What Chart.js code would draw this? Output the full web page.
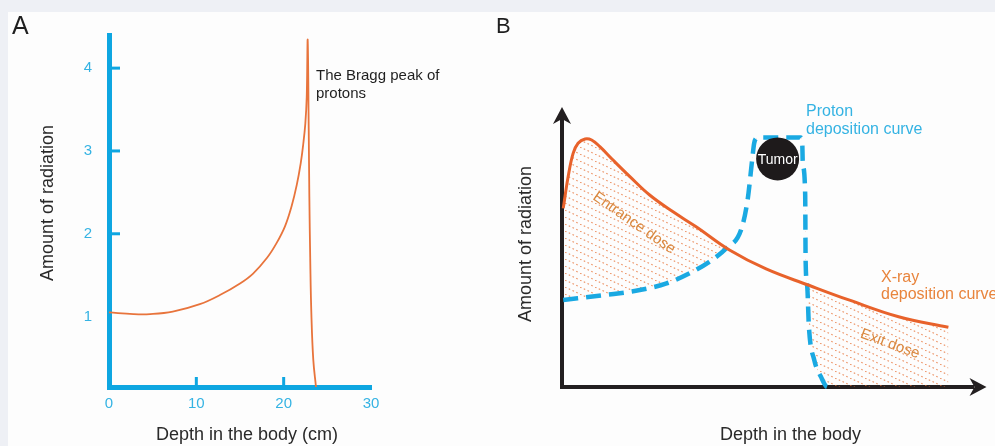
<!DOCTYPE html>
<html><head><meta charset="utf-8">
<script src="https://cdn.jsdelivr.net/npm/chart.js@4"></script>
<style>
html,body{margin:0;padding:0;background:#eef0f5;width:995px;height:446px;overflow:hidden}
#panel{position:absolute;left:8px;top:12px;width:987px;height:434px;background:#fdfdfd}
canvas{position:absolute;top:0}
#ca{left:0}
#cb{left:490px}
</style></head><body>
<div id="panel"></div>
<canvas id="ca" width="490" height="446"></canvas>
<canvas id="cb" width="505" height="446"></canvas>
<script>
// ---------- Panel A: Bragg peak ----------
const braggDepth = [0, 2.8, 4.7, 7.3, 10.4, 12.7, 15.0, 16.5, 18.1, 19.2, 20.15, 20.9, 21.5, 21.95, 22.25, 22.48, 22.64, 22.75, 22.87, 22.94, 23.05, 23.17, 23.39, 23.7];
const braggDose  = [1.05, 1.03, 1.03, 1.06, 1.15, 1.26, 1.40, 1.52, 1.71, 1.89, 2.09, 2.33, 2.59, 2.85, 3.09, 3.33, 3.65, 4.34, 3.25, 2.45, 1.64, 1.04, 0.48, 0.15];
const aXTicks = [0, 10, 20, 30];
const aYTicks = [1, 2, 3, 4];
const aXTickMarks = [10, 20];
const aYTickMarks = [2, 3, 4];

// ---------- Panel B: X-ray vs proton deposition ----------
const xrayDepth = [0.3, 1.5, 2.7, 3.9, 5.6, 7.2, 9.2, 12.4, 16.5, 21.3, 26.9, 32.6, 40.7, 49.6, 60.0, 69.7, 81.8, 93.9];
const xrayDose  = [66.9, 78.8, 87.5, 91.3, 92.9, 92.5, 90.0, 85.0, 78.8, 71.9, 65.7, 60.0, 51.3, 44.2, 38.1, 32.6, 26.3, 22.4];
const protonDepth = [0.3, 10.8, 18.9, 25.4, 31.0, 35.8, 39.9, 43.5, 45.1, 46.3, 46.7, 47.5, 48.7, 58.0, 58.4, 58.5, 59.1, 59.2, 59.6, 60.0, 61.3, 62.9, 64.5, 100];
const protonDose  = [32.6, 34.5, 36.3, 38.8, 42.6, 46.9, 51.9, 58.8, 70.0, 86.3, 91.3, 93.3, 93.4, 93.4, 90.6, 84.4, 71.9, 47.6, 37.6, 22.6, 10.1, 3.9, 0, 0];
const tumorDepth = [52.4];
const tumorDose  = [85.4];

const FONT = '"Liberation Sans", Arial, Helvetica, sans-serif';
const CYAN = '#0ea6e1';
const CYAN_TXT = '#35b3e3';
const ORANGE = '#e8622b';

function pts(xs, ys){ return xs.map((x,i)=>({x:x, y:ys[i]})); }

function txt(ctx, s, x, y, size, color, align, rot){
  ctx.save();
  ctx.font = size + 'px ' + FONT;
  ctx.fillStyle = color;
  ctx.textAlign = align || 'left';
  ctx.textBaseline = 'middle';
  ctx.translate(x, y);
  if (rot) ctx.rotate(rot);
  ctx.fillText(s, 0, 0);
  ctx.restore();
}

// ---------- Chart A ----------
const plugA = {
  id: 'plugA',
  afterDraw(chart){
    const ctx = chart.ctx, xs = chart.scales.x, ys = chart.scales.y, a = chart.chartArea;
    ctx.save();
    ctx.strokeStyle = CYAN; ctx.lineWidth = 3;
    aYTickMarks.forEach(v => { const y = ys.getPixelForValue(v); ctx.beginPath(); ctx.moveTo(a.left, y); ctx.lineTo(a.left + 11, y); ctx.stroke(); });
    aXTickMarks.forEach(v => { const x = xs.getPixelForValue(v); ctx.beginPath(); ctx.moveTo(x, a.bottom); ctx.lineTo(x, a.bottom - 10); ctx.stroke(); });
    ctx.restore();
    txt(ctx, 'A', 12, 27, 25, '#1f1f1f');
    txt(ctx, 'Amount of radiation', 48, 203, 18, '#2a2a2a', 'center', -Math.PI/2);
    txt(ctx, 'Depth in the body (cm)', 247, 435, 18, '#2a2a2a', 'center');
    txt(ctx, 'The Bragg peak of', 316, 76, 15, '#1f1f1f');
    txt(ctx, 'protons', 316, 94, 15, '#1f1f1f');
  }
};

new Chart(document.getElementById('ca'), {
  type: 'line',
  data: { datasets: [{
    data: pts(braggDepth, braggDose),
    borderColor: '#e8743c', borderWidth: 1.8, pointRadius: 0,
    tension: 0.4, fill: false
  }]},
  options: {
    responsive: false, animation: false, devicePixelRatio: 1,
    layout: { padding: { left: 0, right: 119, top: 35, bottom: 0 } },
    plugins: { legend: { display: false }, tooltip: { enabled: false } },
    scales: {
      x: { type: 'linear', min: 0, max: 30,
        grid: { display: false, drawTicks: false },
        border: { display: true, color: CYAN, width: 5 },
        ticks: { color: CYAN_TXT, font: { size: 15, family: FONT }, padding: 8, maxRotation: 0, autoSkip: false },
        afterBuildTicks: s => { s.ticks = aXTicks.map(v => ({ value: v })); },
        afterFit: s => { s.height = 59; } },
      y: { type: 'linear', min: 0.15, max: 4.4,
        grid: { display: false, drawTicks: false },
        border: { display: true, color: CYAN, width: 5 },
        ticks: { color: CYAN_TXT, font: { size: 15, family: FONT }, padding: 17, autoSkip: false },
        afterBuildTicks: s => { s.ticks = aYTicks.map(v => ({ value: v })); },
        afterFit: s => { s.width = 109; } }
    }
  },
  plugins: [plugA]
});

// ---------- Chart B ----------
function makeHatch(){
  const t = document.createElement('canvas'); t.width = 15; t.height = 7;
  const g = t.getContext('2d');
  g.strokeStyle = 'rgba(230,112,52,0.75)'; g.lineWidth = 1.2;
  g.setLineDash([1.6, 2.54]);
  g.beginPath(); g.moveTo(0, 0); g.lineTo(15, 7); g.stroke();
  return g.createPattern(t, 'repeat');
}
const hatch = makeHatch();

const OFFB = 490;
const plugB = {
  id: 'plugB',
  afterDraw(chart){
    const ctx = chart.ctx, a = chart.chartArea;
    const xs = chart.scales.x, ys = chart.scales.y;
    ctx.save();
    ctx.fillStyle = '#231f20';
    const cx = a.left, ty = a.top - 13;
    ctx.beginPath(); ctx.moveTo(cx, ty); ctx.lineTo(cx + 9, ty + 17); ctx.lineTo(cx, ty + 12); ctx.lineTo(cx - 9, ty + 17); ctx.closePath(); ctx.fill();
    const cy = a.bottom, tx = a.right + 13;
    ctx.beginPath(); ctx.moveTo(tx, cy); ctx.lineTo(tx - 17, cy + 9); ctx.lineTo(tx - 12, cy); ctx.lineTo(tx - 17, cy - 9); ctx.closePath(); ctx.fill();
    ctx.restore();
    const o = OFFB;
    txt(ctx, 'B', 496 - o, 27, 22, '#1f1f1f');
    txt(ctx, 'Amount of radiation', 526 - o, 244, 18, '#2a2a2a', 'center', -Math.PI/2);
    txt(ctx, 'Depth in the body', 790.5 - o, 435, 18, '#2a2a2a', 'center');
    txt(ctx, 'Proton', 806 - o, 112, 16, CYAN_TXT);
    txt(ctx, 'deposition curve', 806 - o, 130, 16, CYAN_TXT);
    txt(ctx, 'X-ray', 881 - o, 278, 16, '#e8843c');
    txt(ctx, 'deposition curve', 881 - o, 295, 16, '#e8843c');
    txt(ctx, 'Entrance dose', 634 - o, 223, 15, '#d9883f', 'center', 35 * Math.PI / 180);
    txt(ctx, 'Exit dose', 890 - o, 344, 15, '#d9883f', 'center', 20 * Math.PI / 180);
    txt(ctx, 'Tumor', xs.getPixelForValue(tumorDepth[0]), ys.getPixelForValue(tumorDose[0]) + 1, 14, '#ffffff', 'center');
  }
};

new Chart(document.getElementById('cb'), {
  type: 'line',
  data: { datasets: [
    { label: 'Tumor', data: pts(tumorDepth, tumorDose), showLine: false,
      pointRadius: 21.5, pointBackgroundColor: '#1e1a1b', pointBorderWidth: 0, clip: false },
    { label: 'X-ray', data: pts(xrayDepth, xrayDose), borderColor: ORANGE, borderWidth: 3, pointRadius: 0,
      tension: 0.4, clip: false,
      fill: { target: 2, above: hatch, below: 'rgba(0,0,0,0)' } },
    { label: 'Proton', data: pts(protonDepth, protonDose), borderColor: '#1aa9e2', borderWidth: 4.5, pointRadius: 0,
      borderDash: [15, 8], cubicInterpolationMode: 'monotone', clip: false, fill: false,
      segment: { borderColor: c => (c.p1DataIndex >= protonDepth.length - 1 ? 'rgba(0,0,0,0)' : undefined) } }
  ]},
  options: {
    responsive: false, animation: false, devicePixelRatio: 1,
    layout: { padding: { left: 0, right: 20, top: 120, bottom: 0 } },
    plugins: { legend: { display: false }, tooltip: { enabled: false }, filler: { drawTime: 'beforeDatasetsDraw' } },
    scales: {
      x: { type: 'linear', min: 0, max: 100, z: 1,
        grid: { display: false, drawTicks: false },
        border: { display: true, color: '#231f20', width: 4 },
        ticks: { display: false },
        afterFit: s => { s.height = 59; } },
      y: { type: 'linear', min: 0, max: 100, z: 1,
        grid: { display: false, drawTicks: false },
        border: { display: true, color: '#231f20', width: 4 },
        ticks: { display: false },
        afterFit: s => { s.width = 72; } }
    }
  },
  plugins: [plugB]
});
</script>
</body></html>
